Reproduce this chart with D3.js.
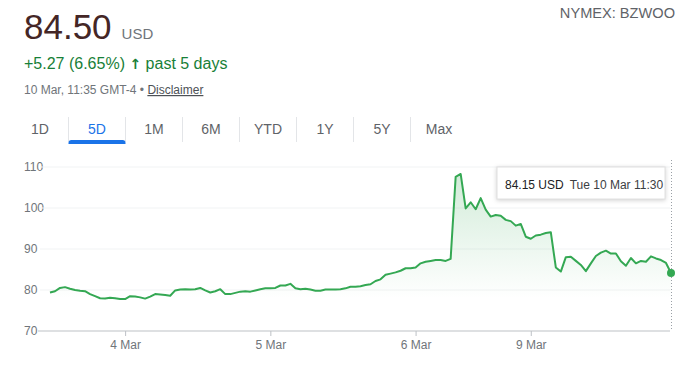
<!DOCTYPE html>
<html><head><meta charset="utf-8">
<script src="https://cdn.jsdelivr.net/npm/d3@7"></script>
<style>
body{margin:0;background:#fff;}
svg{display:block;font-family:Arial,"Liberation Sans",sans-serif;}
</style>
</head><body>
<svg id="c" width="700" height="365"></svg>
<script>
// ---- data ----
const prices = [
79.4,79.7,80.5,80.7,80.3,80.0,79.8,79.7,79.0,78.5,
78.0,77.9,78.1,78.0,77.8,77.8,78.5,78.4,78.2,77.9,
78.4,79.0,78.9,78.8,78.6,79.9,80.1,80.2,80.1,80.2,
80.5,79.9,79.4,79.7,80.2,79.0,79.0,79.3,79.6,79.7,
79.6,79.9,80.2,80.4,80.4,80.5,81.1,81.1,81.5,80.4,
80.2,80.3,80.1,79.8,79.8,80.1,80.1,80.1,80.2,80.4,
80.8,80.8,80.9,81.2,81.4,82.2,82.6,83.7,84.0,84.3,
84.7,85.3,85.3,85.5,86.5,86.9,87.1,87.3,87.3,87.1,
87.6,107.6,108.3,99.9,101.4,99.7,102.4,99.6,97.9,98.3,
98.1,97.1,96.8,95.7,96.1,93.0,92.5,93.3,93.5,93.9,
94.1,85.5,84.5,88.0,88.1,87.1,86.1,84.6,86.5,88.3,
89.1,89.6,88.9,88.9,87.0,85.9,87.8,86.5,87.1,86.9,
88.2,87.7,87.3,86.6,84.15
];
const yTicks = [70, 80, 90, 100, 110];
const dateLabels = ["4 Mar", "5 Mar", "6 Mar", "9 Mar"];
const dateIndex = [15, 44, 73, 96];
const tabs = ["1D", "5D", "1M", "6M", "YTD", "1Y", "5Y", "Max"];
const activeTab = "5D";
const price = "84.50", currency = "USD";
const change = "+5.27 (6.65%)", period = "past 5 days";
const stamp = "10 Mar, 11:35 GMT-4 \u2022 ", disclaimer = "Disclaimer";
const ticker = "NYMEX: BZWOO";
const tipValue = "84.15 USD", tipDate = "Tue 10 Mar 11:30";

// ---- drawing ----
const svg = d3.select("#c");
const grey = "#70757a", green = "#34a853";

// header
const h = svg.append("g");
const t1 = h.append("text").attr("x", 24).attr("y", 39);
t1.append("tspan").attr("font-size", 35).attr("fill", "#442626").text(price);
t1.append("tspan").attr("dx", 10).attr("font-size", 15).attr("fill", grey).text(currency);

const t2 = h.append("text").attr("x", 24).attr("y", 69).attr("font-size", 16).attr("fill", "#188038");
t2.append("tspan").text(change + " ");
t2.append("tspan").attr("font-weight", "bold").attr("font-family", "'DejaVu Sans',sans-serif")
  .attr("font-size", 14).text("\u2191");
t2.append("tspan").text(" " + period);

const t3 = h.append("text").attr("x", 24).attr("y", 94).attr("font-size", 12).attr("fill", grey);
t3.append("tspan").text(stamp);
t3.append("tspan").attr("fill", "#4d5156").attr("text-decoration", "underline").text(disclaimer);

h.append("text").attr("x", 675).attr("y", 18).attr("text-anchor", "end")
  .attr("font-size", 14.6).attr("fill", "#5f6368").text(ticker);

// tabs
const tabX = d3.scaleLinear().domain([0, 1]).range([40, 97]);
const tg = svg.append("g");
tabs.forEach((t, i) => {
  tg.append("text").attr("x", tabX(i)).attr("y", 134).attr("text-anchor", "middle")
    .attr("font-size", 14).attr("fill", t === activeTab ? "#1a73e8" : "#5f6368").text(t);
  if (i > 0) {
    tg.append("line").attr("x1", tabX(i - 0.5)).attr("x2", tabX(i - 0.5))
      .attr("y1", 117).attr("y2", 142).attr("stroke", "#e3e5e8");
  }
});
const ai = tabs.indexOf(activeTab);
const ax0 = tabX(ai - 0.5), ax1 = tabX(ai + 0.5);
tg.append("path")
  .attr("d", `M${ax0},144 L${ax0},143 Q${ax0},140 ${ax0 + 3},140 L${ax1 - 3},140 Q${ax1},140 ${ax1},143 L${ax1},144 Z`)
  .attr("fill", "#1a73e8");

// chart
const x = d3.scaleLinear().domain([0, prices.length - 1]).range([50, 671]);
const y = d3.scaleLinear().domain([70, 110]).range([331, 167]);

// grid + y labels
const yAxis = d3.axisLeft(y).tickValues(yTicks).tickSize(0).tickPadding(0);
const yg = svg.append("g").attr("transform", "translate(24,0)").call(yAxis);
yg.select(".domain").remove();
yg.selectAll("text").attr("text-anchor", "start").attr("x", 0).attr("font-size", 12)
  .attr("fill", grey).attr("font-family", "Arial,'Liberation Sans',sans-serif");
svg.append("g").selectAll("line").data(yTicks.filter(d => d > 70)).join("line")
  .attr("x1", 40).attr("x2", 670).attr("y1", d => y(d)).attr("y2", d => y(d))
  .attr("stroke", "#f1f3f4");

// gradient
const defs = svg.append("defs");
const grad = defs.append("linearGradient").attr("id", "g").attr("gradientUnits", "userSpaceOnUse")
  .attr("x1", 0).attr("x2", 0).attr("y1", y(108)).attr("y2", y(78));
grad.append("stop").attr("offset", 0).attr("stop-color", green).attr("stop-opacity", 0.22);
grad.append("stop").attr("offset", 1).attr("stop-color", green).attr("stop-opacity", 0);

svg.append("path").datum(prices)
  .attr("d", d3.area().x((d, i) => x(i)).y0(y(70)).y1(d => y(d)))
  .attr("fill", "url(#g)");

// x axis
const xAxis = d3.axisBottom(x).tickValues(dateIndex).tickSize(5).tickPadding(4)
  .tickFormat((d, i) => dateLabels[i]);
const xg = svg.append("g").attr("transform", `translate(0,${y(70)})`).call(xAxis);
xg.select(".domain").attr("d", "M38,0H670").attr("stroke", "#bdc1c6").attr("stroke-width", 1.2);
xg.selectAll(".tick line").attr("stroke", "#bdc1c6");
xg.selectAll("text").attr("font-size", 12).attr("fill", grey)
  .attr("font-family", "Arial,'Liberation Sans',sans-serif");

// line
svg.append("path").datum(prices)
  .attr("d", d3.line().x((d, i) => x(i)).y(d => y(d)))
  .attr("fill", "none").attr("stroke", green).attr("stroke-width", 2).attr("stroke-linejoin", "round");

// hover line + dot
const last = prices.length - 1;
svg.append("line").attr("x1", x(last) + 0.5).attr("x2", x(last) + 0.5).attr("y1", 160).attr("y2", y(70))
  .attr("stroke", "#9aa0a6").attr("stroke-dasharray", "1,2");
svg.append("circle").attr("cx", x(last)).attr("cy", y(prices[last])).attr("r", 4).attr("fill", green);

// tooltip
const tip = svg.append("g");
tip.append("rect").attr("x", 497).attr("y", 167).attr("width", 168).attr("height", 32)
  .attr("fill", "#fff").attr("stroke", "#e0e0e0")
  .style("filter", "drop-shadow(0px 1px 2px rgba(0,0,0,0.18))");
const tt = tip.append("text").attr("x", 505).attr("y", 188.5).attr("font-size", 12);
tt.append("tspan").attr("fill", "#202124").text(tipValue);
tt.append("tspan").attr("dx", 6).attr("fill", "#3c4043").text(tipDate);
</script>
</body></html>
